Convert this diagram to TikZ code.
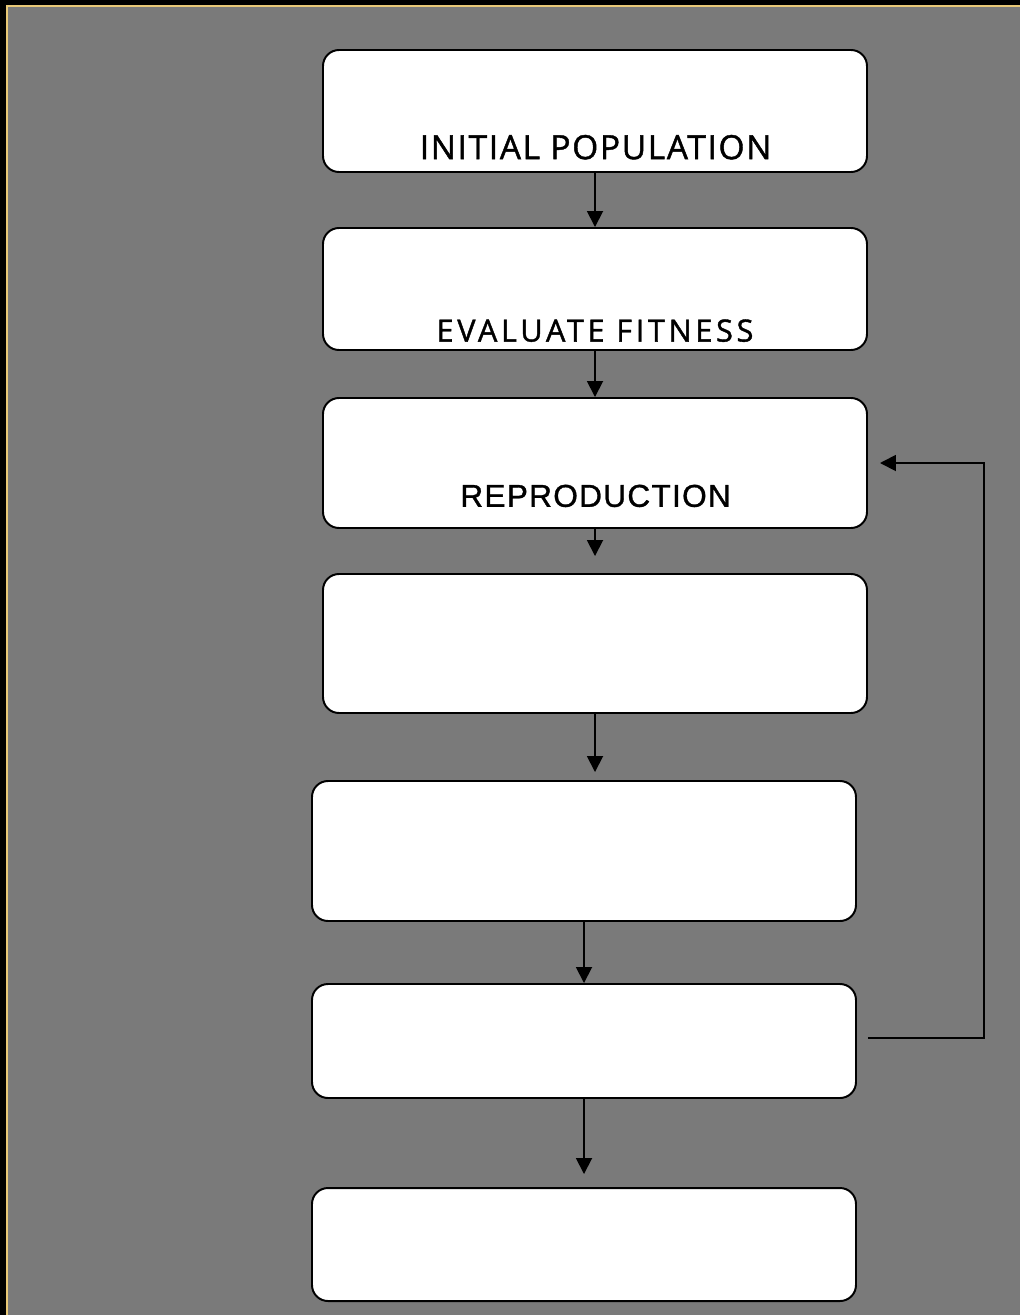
\documentclass[tikz,border=0pt]{standalone}
\usepackage{fontspec}
\usepackage{tikz}
\usetikzlibrary{positioning,arrows.meta}
\newfontfamily\initfont[LetterSpace=5,FakeBold=1.3]{Open Sans}
\newfontfamily\evalfont[LetterSpace=12,FakeBold=1.3]{Open Sans}
\newfontfamily\reprofont[LetterSpace=4,FakeBold=1]{Liberation Sans}
\definecolor{bggray}{RGB}{122,122,122}
\definecolor{rimyellow}{RGB}{232,200,120}

\begin{document}
\begin{tikzpicture}[>={Triangle[length=0.4cm,width=0.4cm]},
      stage/.style={draw=black,fill=white,line width=1.4pt,rounded corners=0.4cm,minimum width=13.6cm,inner sep=0pt},
      caption/.style={anchor=base,inner sep=0pt,text=black},
      flow/.style={line width=1.3pt,->}]
      \useasboundingbox (0,0) rectangle (25.5,-32.875);
      \fill[black] (0,0) rectangle (25.5,-32.875);
      \fill[bggray] (0.175,-0.15) rectangle (25.5,-32.875);
      \draw[rimyellow,line width=1.4pt] (0.175,-32.875) |- (25.5,-0.15);
      \node (initpop)  at (14.875,-2.775)  [stage,minimum height=3.05cm] {};
      \node (evalfit)  at (14.875,-7.225)  [stage,minimum height=3.05cm] {};
      \node (repro)    at (14.875,-11.575) [stage,minimum height=3.25cm] {};
      \node (stagefour) at (14.875,-16.0875) [stage,minimum height=3.475cm] {};
      \node (stagefive) at (14.6,-21.275) [stage,minimum height=3.5cm] {};
      \node (stagesix)  at (14.6,-26.025) [stage,minimum height=2.85cm] {};
      \node (stageseven) at (14.6,-31.1125) [stage,minimum height=2.825cm] {};
      \node (initpoptext) at (14.89,-3.98) [caption] {\fontsize{23.8}{26}\initfont INITIAL POPULATION};
      \node (evalfittext) at (14.875,-8.54) [caption] {\fontsize{21.8}{24}\evalfont EVALUATE FITNESS};
      \node (reprotext)   at (14.89,-12.67) [caption] {\fontsize{22.5}{25}\reprofont REPRODUCTION};
      \draw[flow] (initpop) -- (evalfit);
      \draw[flow] (evalfit) -- (repro);
      \draw[flow,shorten >=0.425cm] (repro) -- (stagefour);
      \draw[flow,shorten >=0.2cm] (stagefour.south) -- (stagefour.south |- stagefive.north);
      \draw[flow] (stagefive) -- (stagesix);
      \draw[flow,shorten >=0.325cm] (stagesix) -- (stageseven);
      \draw[flow,shorten <=0.275cm,shorten >=0.3cm] ([yshift=0.075cm]stagesix.east) -- ++(3.175,0) |- (repro.east);
  \end{tikzpicture}
\end{document}
